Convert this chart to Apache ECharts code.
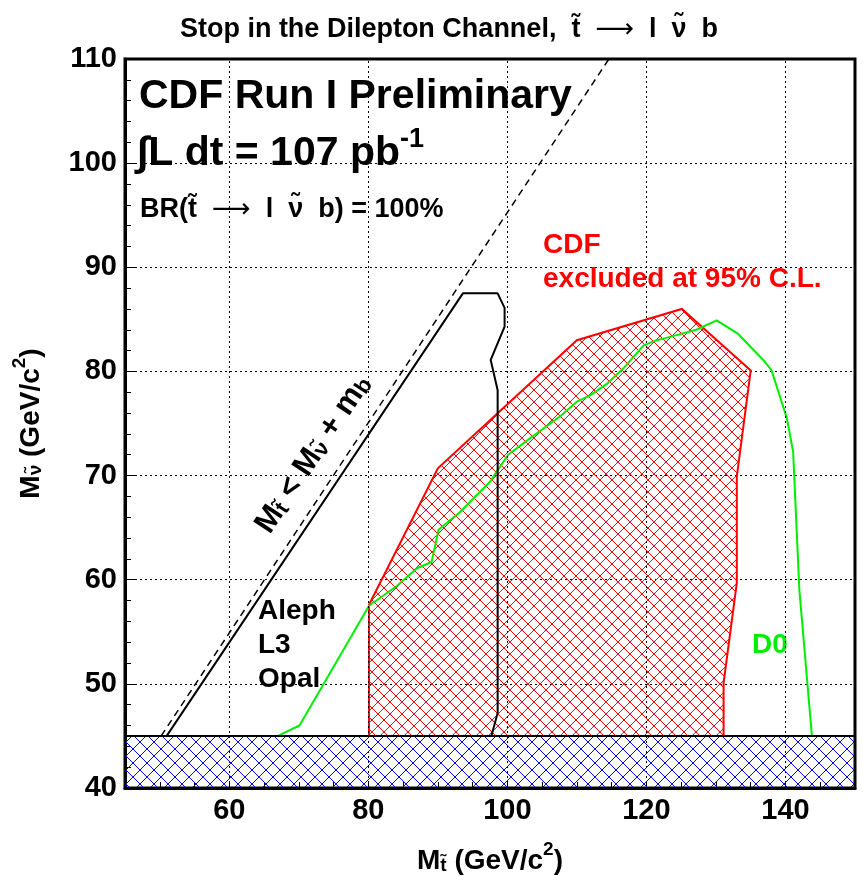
<!DOCTYPE html>
<html>
<head>
<meta charset="utf-8">
<script src="https://cdn.jsdelivr.net/npm/echarts@6/dist/echarts.min.js"></script>
<style>
  html, body { margin: 0; padding: 0; background: #fff; }
  #main { width: 863px; height: 876px; }
</style>
</head>
<body>
<div id="main"></div>
<script>
// tick values
const xMajorTicks = [60, 80, 100, 120, 140]

// low-mass band excluded by LEP (M_nu < 45)
const bandX = [45, 150, 150, 45]
const bandY = [40, 40, 45, 45]

// kinematic limit  M_t = M_nu + m_b (dashed)
const kinX = [50.2, 114.6]
const kinY = [45, 110]

// Aleph / L3 / Opal contour
const lepX = [51.0, 93.6, 98.6, 99.6, 99.6, 97.6, 98.6, 98.6, 97.7]
const lepY = [45, 87.5, 87.5, 86.1, 84.3, 81.1, 78.2, 47.2, 45]

// CDF excluded region at 95% C.L.
const cdfX = [80.1, 80.1, 90.0, 110.0, 125.1, 135.0, 133.0, 133.0, 131.1, 131.1]
const cdfY = [45, 57.6, 70.7, 83.0, 86.0, 80.1, 69.9, 59.7, 50.1, 45]

// D0 contour
const d0X = [67.0, 70.1, 80.1, 84.1, 87.0, 89.1, 90.1, 93.2, 97.5, 98.5, 100.1, 103.3, 107.6, 110.0,
  111.9, 114.3, 116.7, 119.6, 121.5, 122.7, 127.2, 130.1, 133.2, 136.8, 138.0, 140.2, 141.1, 142.0, 143.8]
const d0Y = [45, 46.0, 57.5, 59.4, 61.1, 61.7, 64.8, 66.5, 69.4, 70.4, 72.0, 73.6, 75.7, 77.1,
  77.7, 78.8, 80.3, 82.5, 83.0, 83.2, 84.0, 84.9, 83.6, 81.1, 80.1, 75.5, 72.3, 59.0, 45]

const FONT = '"Liberation Sans", Arial, Helvetica, sans-serif'
const SYM = '"DejaVu Sans", sans-serif'

function pairs(xs, ys) {
  return xs.map((x, i) => [x, ys[i]])
}

// cross hatch tile
function hatch(color, s) {
  const c = document.createElement('canvas')
  c.width = s
  c.height = s
  const g = c.getContext('2d')
  g.strokeStyle = color
  g.lineWidth = 1
  g.beginPath()
  g.moveTo(0, 0); g.lineTo(s, s)
  g.moveTo(s, 0); g.lineTo(0, s)
  g.stroke()
  return { image: c, repeat: 'repeat' }
}

function polygonSeries(name, xs, ys, fill, stroke, z) {
  return {
    name: name,
    type: 'custom',
    z: z,
    clip: true,
    silent: true,
    data: pairs(xs, ys),
    encode: { x: 0, y: 1 },
    renderItem: function (params, api) {
      if (params.dataIndex !== 0) return
      const pts = xs.map((x, i) => api.coord([x, ys[i]]))
      return {
        type: 'polygon',
        shape: { points: pts },
        style: { fill: fill, stroke: stroke, lineWidth: 2 }
      }
    }
  }
}

// rich text styles with sub/superscripts and a long arrow
function richSet(size, sub, color) {
  const lh = Math.round(size * 1.25)
  return {
    m: { fontFamily: FONT, fontWeight: 'bold', fontSize: size, color: color, lineHeight: lh, verticalAlign: 'bottom' },
    s: { fontFamily: FONT, fontWeight: 'bold', fontSize: sub, color: color, lineHeight: sub, verticalAlign: 'bottom' },
    p: { fontFamily: FONT, fontWeight: 'bold', fontSize: sub, color: color, lineHeight: sub, verticalAlign: 'top' },
    a: { fontFamily: SYM, fontWeight: 'normal', fontSize: size, color: color, lineHeight: lh, verticalAlign: 'bottom' }
  }
}

const chart = echarts.init(document.getElementById('main'))

const axisRich = richSet(28, 19, '#000')

const option = {
  animation: false,
  backgroundColor: '#fff',
  grid: {
    left: 125, right: 8, top: 59, bottom: 88,
    containLabel: false,
    outerBoundsMode: 'none',
    show: true, borderColor: '#000', borderWidth: 3, backgroundColor: 'transparent'
  },
  xAxis: {
    type: 'value',
    min: 45, max: 150, interval: 5,
    name: '{m|M}{s|t\u0303}{m| (GeV/c}{p|2}{m|)}',
    nameLocation: 'middle',
    nameGap: 52,
    nameTextStyle: { rich: axisRich },
    axisLine: { show: true, lineStyle: { color: '#000', width: 3 } },
    axisTick: { show: true, inside: true, length: 6, lineStyle: { color: '#000', width: 1 } },
    axisLabel: {
      margin: 8,
      color: '#000', fontFamily: FONT, fontWeight: 'bold', fontSize: 29,
      formatter: v => (xMajorTicks.indexOf(v) >= 0 ? String(v) : '')
    },
    splitLine: { show: false }
  },
  yAxis: {
    type: 'value',
    min: 40, max: 110, interval: 10,
    name: '{m|M}{s|\u03bd\u0303}{m| (GeV/c}{p|2}{m|)}',
    nameLocation: 'middle',
    nameGap: 80,
    nameRotate: 90,
    nameTextStyle: { rich: axisRich },
    axisLine: { show: true, lineStyle: { color: '#000', width: 3 } },
    axisTick: { show: true, inside: true, length: 12, lineStyle: { color: '#000', width: 1 } },
    minorTick: { show: true, splitNumber: 5, length: 6, lineStyle: { color: '#000', width: 1 } },
    axisLabel: {
      margin: 8,
      color: '#000', fontFamily: FONT, fontWeight: 'bold', fontSize: 29
    },
    splitLine: { show: true, lineStyle: { color: '#000', width: 1, type: [2, 3] } }
  },
  series: [
    polygonSeries('CDF', cdfX, cdfY, hatch('#ff0000', 12), '#ff0000', 2),
    {
      name: 'D0',
      type: 'line',
      z: 3,
      data: pairs(d0X, d0Y),
      showSymbol: false,
      silent: true,
      lineStyle: { color: '#00ee00', width: 2 }
    },
    {
      name: 'LEP',
      type: 'line',
      z: 4,
      data: pairs(lepX, lepY),
      showSymbol: false,
      silent: true,
      lineStyle: { color: '#000', width: 2 }
    },
    {
      name: 'kinematic',
      type: 'line',
      z: 4,
      data: pairs(kinX, kinY),
      showSymbol: false,
      silent: true,
      clip: true,
      lineStyle: { color: '#000', width: 1.5, type: [7, 5] },
      markLine: {
        silent: true,
        symbol: ['none', 'none'],
        label: { show: false },
        lineStyle: { color: '#000', width: 1, type: [2, 3] },
        data: xMajorTicks.map(v => ({ xAxis: v }))
      }
    },
    polygonSeries('LEP band', bandX, bandY, hatch('#0000ff', 14), '#000', 5)
  ],
  graphic: [
    {
      type: 'text', x: 449, y: 26,
      style: {
        text: '{m|Stop in the Dilepton Channel,  t\u0303  }{a|\u27f6}{m|  l  \u03bd\u0303  b}',
        align: 'center', verticalAlign: 'middle',
        rich: richSet(27, 18, '#000')
      }
    },
    {
      type: 'text', x: 139, y: 97,
      style: {
        text: 'CDF Run I Preliminary',
        font: 'bold 41px ' + FONT, fill: '#000', verticalAlign: 'middle'
      }
    },
    {
      type: 'text', x: 137, y: 150,
      style: {
        text: '{m|\u222bL dt = 107 pb}{p|-1}',
        verticalAlign: 'middle',
        rich: {
          m: { fontFamily: FONT, fontWeight: 'bold', fontSize: 41, lineHeight: 48, verticalAlign: 'bottom', fill: '#000' },
          p: { fontFamily: FONT, fontWeight: 'bold', fontSize: 27, lineHeight: 26, verticalAlign: 'top', fill: '#000' }
        }
      }
    },
    {
      type: 'text', x: 140, y: 206,
      style: {
        text: '{m|BR(t\u0303  }{a|\u27f6}{m|  l  \u03bd\u0303  b) = 100%}',
        verticalAlign: 'middle',
        rich: richSet(27, 18, '#000')
      }
    },
    {
      type: 'text', x: 543, y: 228,
      style: {
        text: 'CDF\nexcluded at 95% C.L.',
        font: 'bold 28px ' + FONT, fill: '#ff0000', lineHeight: 34
      }
    },
    {
      type: 'text', x: 258, y: 594,
      style: {
        text: 'Aleph\nL3\nOpal',
        font: 'bold 28px ' + FONT, fill: '#000', lineHeight: 34
      }
    },
    {
      type: 'text', x: 752, y: 645,
      style: {
        text: 'D0',
        font: 'bold 28px ' + FONT, fill: '#00ee00', verticalAlign: 'middle'
      }
    },
    {
      type: 'text', x: 310, y: 452, rotation: 56.3 * Math.PI / 180,
      style: {
        text: '{m|M}{s|t\u0303}{m| < M}{s|\u03bd\u0303}{m| + m}{s|b}',
        align: 'center', verticalAlign: 'middle',
        rich: richSet(31, 22, '#000')
      }
    }
  ]
}

chart.setOption(option)
</script>
</body>
</html>
